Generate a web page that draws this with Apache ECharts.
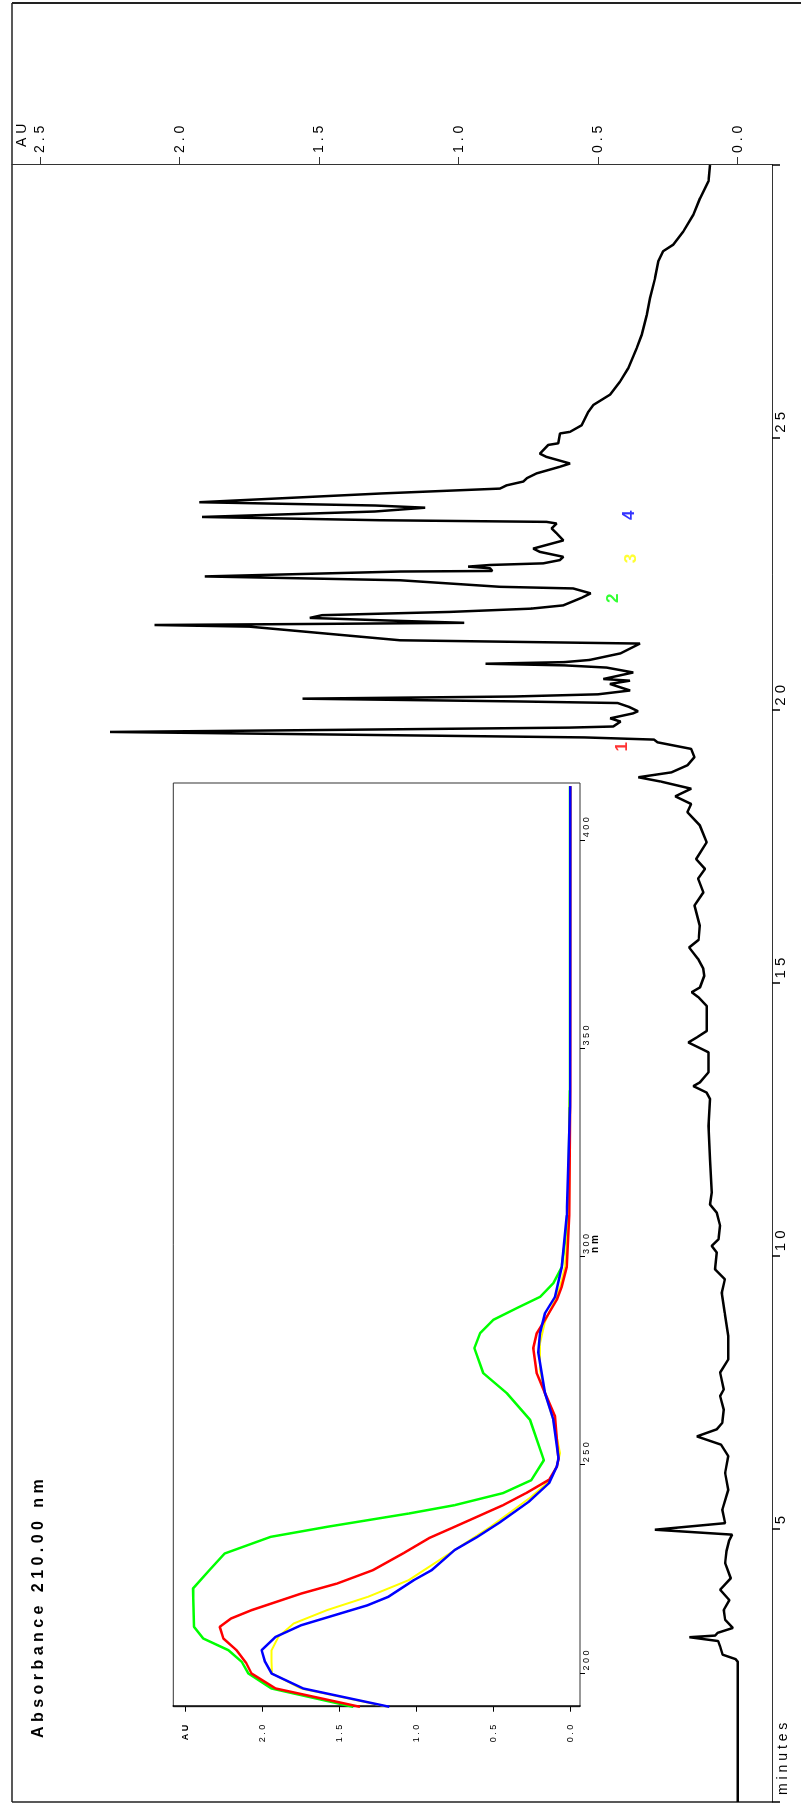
<!DOCTYPE html>
<html><head><meta charset="utf-8">
<script src="https://cdn.jsdelivr.net/npm/echarts@6/dist/echarts.min.js"></script>
<style>
html,body{margin:0;padding:0;width:801px;height:1804px;overflow:hidden;background:#fff}
#wrap{position:absolute;left:0;top:0;width:1804px;height:801px;transform-origin:0 0;transform:translate(0px,1804px) rotate(-90deg)}
</style></head><body><div id="wrap"></div>
<script>
// ---- chromatogram (minutes vs AU at 210 nm) ----
const chromTime=[0,2.57,2.62,2.70,2.85,2.95,3.02,3.05,3.10,3.19,3.34,3.52,3.70,3.89,4.10,4.38,4.60,4.80,4.90,4.99,5.11,5.36,5.72,6.03,6.34,6.55,6.70,6.83,6.95,7.19,7.44,7.56,7.87,8.11,8.54,8.96,9.33,9.58,9.76,10.07,10.19,10.31,10.56,10.80,10.95,11.17,11.78,12.39,12.88,13.00,13.12,13.19,13.37,13.74,13.80,13.92,14.01,14.13,14.59,14.75,14.84,14.93,15.14,15.27,15.45,15.66,15.80,16.06,16.43,16.67,16.92,17.10,17.28,17.59,17.90,18.14,18.29,18.43,18.57,18.70,18.78,18.87,19.00,19.15,19.30,19.42,19.47,19.51,19.56,19.61,19.65,19.69,19.71,19.80,19.86,19.95,19.99,20.07,20.14,20.17,20.22,20.26,20.30,20.37,20.49,20.55,20.58,20.70,20.79,20.83,20.86,20.89,20.93,21.05,21.23,21.29,21.54,21.57,21.59,21.61,21.65,21.70,21.75,21.81,21.87,21.93,22.07,22.15,22.24,22.27,22.39,22.46,22.55,22.56,22.61,22.64,22.67,22.70,22.76,22.82,22.91,22.97,23.12,23.25,23.34,23.43,23.46,23.49,23.55,23.65,23.72,23.76,23.82,23.98,24.07,24.13,24.20,24.26,24.35,24.47,24.53,24.65,24.71,24.87,24.90,25.08,25.11,25.23,25.48,25.60,25.79,26.03,26.28,26.64,26.89,27.25,27.56,27.93,28.23,28.42,28.54,28.78,29.09,29.39,29.70,30.0];
const chromAU=[0,0,0.008,0.054,0.063,0.07,0.173,0.081,0.072,0.017,0.045,0.050,0.030,0.063,0.025,0.045,0.040,0.030,0.020,0.297,0.045,0.055,0.034,0.045,0.034,0.060,0.146,0.075,0.055,0.050,0.063,0.050,0.063,0.034,0.034,0.046,0.057,0.046,0.081,0.075,0.093,0.069,0.063,0.075,0.099,0.093,0.099,0.105,0.099,0.111,0.159,0.135,0.105,0.105,0.129,0.177,0.147,0.111,0.111,0.141,0.165,0.135,0.120,0.123,0.142,0.174,0.140,0.136,0.155,0.123,0.142,0.117,0.149,0.111,0.136,0.180,0.167,0.224,0.167,0.275,0.356,0.237,0.180,0.155,0.167,0.287,0.30,0.55,1.4,2.25,1.4,0.60,0.446,0.42,0.457,0.375,0.357,0.39,0.43,0.8,1.56,0.8,0.50,0.386,0.458,0.386,0.482,0.374,0.47,0.62,0.904,0.62,0.53,0.42,0.35,1.21,1.75,2.09,1.5,0.98,1.24,1.534,1.49,1.03,0.74,0.625,0.559,0.527,0.59,0.852,1.21,1.91,1.21,0.88,0.888,0.966,0.888,0.697,0.637,0.625,0.709,0.733,0.625,0.649,0.667,0.649,0.685,1.28,1.92,1.3,1.12,1.3,1.93,1.28,0.852,0.828,0.768,0.756,0.720,0.637,0.601,0.685,0.709,0.679,0.643,0.637,0.601,0.559,0.535,0.518,0.458,0.422,0.392,0.362,0.344,0.326,0.314,0.296,0.285,0.267,0.231,0.195,0.159,0.135,0.105,0.099];
const minuteTicks=[5,10,15,20,25];
const auTicks=[0,0.5,1,1.5,2,2.5];
const nmTicks=[200,250,300,350,400];
// ---- peak markers ----
const peakNames=['1','2','3','4'];
const peakTime=[19.34,22.06,22.79,23.58];
const peakAU=[0.415,0.447,0.382,0.388];
const peakColors=['#ff0000','#00ff00','#ffff00','#0000ff'];
// ---- inset UV spectra (nm vs AU) ----
const greenNm=[192,196.4,200,202.8,205.6,208.4,211.2,220.4,224.8,228.8,232.8,235.2,238.4,240.4,243.3,246.4,251.2,260.9,267.3,272.1,278.1,281.7,284.9,287.7,290.4,293.7,297.6,310,340,413];
const greenAU=[1.41,1.94,2.09,2.133,2.22,2.383,2.443,2.449,2.343,2.244,1.946,1.581,1.051,0.754,0.439,0.256,0.174,0.264,0.415,0.567,0.625,0.588,0.502,0.350,0.199,0.113,0.058,0.016,0.006,0.005];
const redNm=[192,196.4,200,202.5,205.6,208.4,211.2,213.2,215.2,219.2,221.6,224.8,228.9,232.5,235.2,238.5,240.4,243.3,246.5,249.6,251.3,261.7,267.3,272,278.1,281.7,284.9,289.7,292.9,297.6,310,340,413];
const redAU=[1.367,1.913,2.07,2.104,2.167,2.252,2.276,2.203,2.07,1.747,1.515,1.283,1.084,0.919,0.754,0.555,0.439,0.290,0.141,0.091,0.080,0.102,0.167,0.220,0.243,0.220,0.167,0.091,0.058,0.026,0.009,0.004,0.003];
const yellowNm=[192,196.4,200,202.8,205.6,208.8,212,215.2,218.4,222.4,227.2,231.2,235.2,238.8,242.4,246.1,249.6,252.9,260.9,267.3,272.8,279.3,284.5,288.9,292.9,297.6,310,340,413];
const yellowAU=[1.185,1.75,1.937,1.94,1.94,1.896,1.797,1.581,1.316,1.051,0.853,0.687,0.521,0.389,0.256,0.141,0.091,0.069,0.113,0.167,0.199,0.199,0.167,0.113,0.069,0.037,0.011,0.005,0.004];
const blueNm=[192,196.4,200,202.8,205.6,208.8,211.6,216.4,218.4,222.4,224.8,229.6,232.8,236.4,241.2,245.7,249.6,251.7,260.9,267.3,277.1,281.7,286.5,290.4,297.6,310,336,413];
const blueAU=[1.176,1.734,1.94,1.982,2.004,1.913,1.747,1.316,1.183,1.018,0.902,0.754,0.605,0.455,0.273,0.141,0.091,0.080,0.113,0.167,0.210,0.199,0.167,0.102,0.058,0.026,0.005,0.004];

const zip=(a,b)=>a.map((v,i)=>[v,b[i]]);
const spaced=s=>String(s).split('').join(' ');
const FONT='"Liberation Sans", Arial, sans-serif';

const chart=echarts.init(document.getElementById('wrap'),null,{renderer:'canvas'});
const specSeries=(name,nm,au,color,w)=>({name,type:'line',xAxisIndex:1,yAxisIndex:1,data:zip(nm,au),showSymbol:false,symbol:'none',lineStyle:{color,width:w},z:4});
const frame=(x1,y1,x2,y2,w)=>({type:'line',shape:{x1,y1,x2,y2},style:{stroke:'#222',lineWidth:w},silent:true});
const txt=(x,y,text,font,align,valign,fill)=>({type:'text',x,y,style:{text,font,fill:fill||'#000',textAlign:align,textVerticalAlign:valign,align:align,verticalAlign:valign},silent:true});

chart.setOption({
  animation:false,
  backgroundColor:'#fff',
  grid:[
    {left:2,width:1637,top:12,height:760,containLabel:false},
    {left:97.3,width:923.7,top:173.3,height:406.7,show:true,borderColor:'#333',borderWidth:1,backgroundColor:'rgba(0,0,0,0)',containLabel:false}
  ],
  xAxis:[
    {gridIndex:0,type:'value',min:0,max:30,position:'bottom',
     axisLine:{show:true,onZero:false,lineStyle:{color:'#333',width:1}},
     axisTick:{show:true,customValues:[0,5,10,15,20,25,30],length:8,lineStyle:{color:'#000',width:1.5}},
     axisLabel:{show:true,customValues:minuteTicks,formatter:v=>spaced(v),align:'left',verticalAlign:'top',padding:[0,0,0,5],margin:1,fontSize:15,color:'#000',fontFamily:FONT},
     splitLine:{show:false}},
    {gridIndex:1,type:'value',min:192.03,max:413.75,position:'bottom',
     axisLine:{show:false,onZero:false},
     axisTick:{show:true,customValues:nmTicks,length:5,lineStyle:{color:'#000'}},
     axisLabel:{show:true,customValues:nmTicks,formatter:v=>spaced(v),align:'left',verticalAlign:'top',padding:[0,0,0,3],margin:2,fontSize:9,color:'#000',fontFamily:FONT},
     splitLine:{show:false}}
  ],
  yAxis:[
    {gridIndex:0,type:'value',min:-0.123,max:2.601,position:'right',
     axisLine:{show:true,onZero:false,lineStyle:{color:'#333',width:1}},
     axisTick:{show:true,customValues:auTicks,length:8,lineStyle:{color:'#333'}},
     axisLabel:{show:true,customValues:auTicks,formatter:v=>spaced(v.toFixed(1)),align:'left',verticalAlign:'middle',margin:12,fontSize:14,color:'#000',fontFamily:FONT},
     splitLine:{show:false}},
    {gridIndex:1,type:'value',min:-0.06,max:2.577,position:'left',
     axisLine:{show:true,onZero:false,lineStyle:{color:'#000',width:1.5}},
     axisTick:{show:true,customValues:auTicks,length:5,lineStyle:{color:'#000'}},
     axisLabel:{show:true,customValues:auTicks,formatter:v=>v===2.5?'{b|A U}':spaced(v.toFixed(1)),rich:{b:{fontWeight:'bold',fontSize:9,fontFamily:FONT}},align:'right',verticalAlign:'middle',margin:18,fontSize:9,color:'#000',fontFamily:FONT},
     splitLine:{show:false}}
  ],
  series:[
    {name:'210 nm',type:'line',xAxisIndex:0,yAxisIndex:0,data:zip(chromTime,chromAU),showSymbol:false,symbol:'none',lineStyle:{color:'#000',width:2.5},z:3},
    specSeries('green',greenNm,greenAU,'#00ff00',2.5),
    specSeries('yellow',yellowNm,yellowAU,'#ffff00',2),
    specSeries('red',redNm,redAU,'#ff0000',2.5),
    specSeries('blue',blueNm,blueAU,'#0000ff',2.5),
    {name:'peaks',type:'scatter',xAxisIndex:0,yAxisIndex:0,symbolSize:0,
     data:peakNames.map((n,i)=>({name:n,value:[peakTime[i],peakAU[i]],label:{color:peakColors[i]}})),
     label:{show:true,formatter:p=>p.name,position:'inside',fontSize:17,fontWeight:'bold',fontFamily:FONT},z:5}
  ],
  graphic:[
    frame(2,12,1801,12,1.5),
    frame(1801,12,1801,801,2),
    frame(2,12,2,772,1.5),
    txt(66,39,'A b s o r b a n c e   2 1 0 . 0 0   n m','bold 16px '+FONT,'left','middle'),
    txt(1657,22,'A U','14px '+FONT,'left','middle'),
    txt(9,783,'m i n u t e s','14px '+FONT,'left','middle'),
    txt(551,595,'n m','bold 10px '+FONT,'left','middle')
  ]
});
</script></body></html>
